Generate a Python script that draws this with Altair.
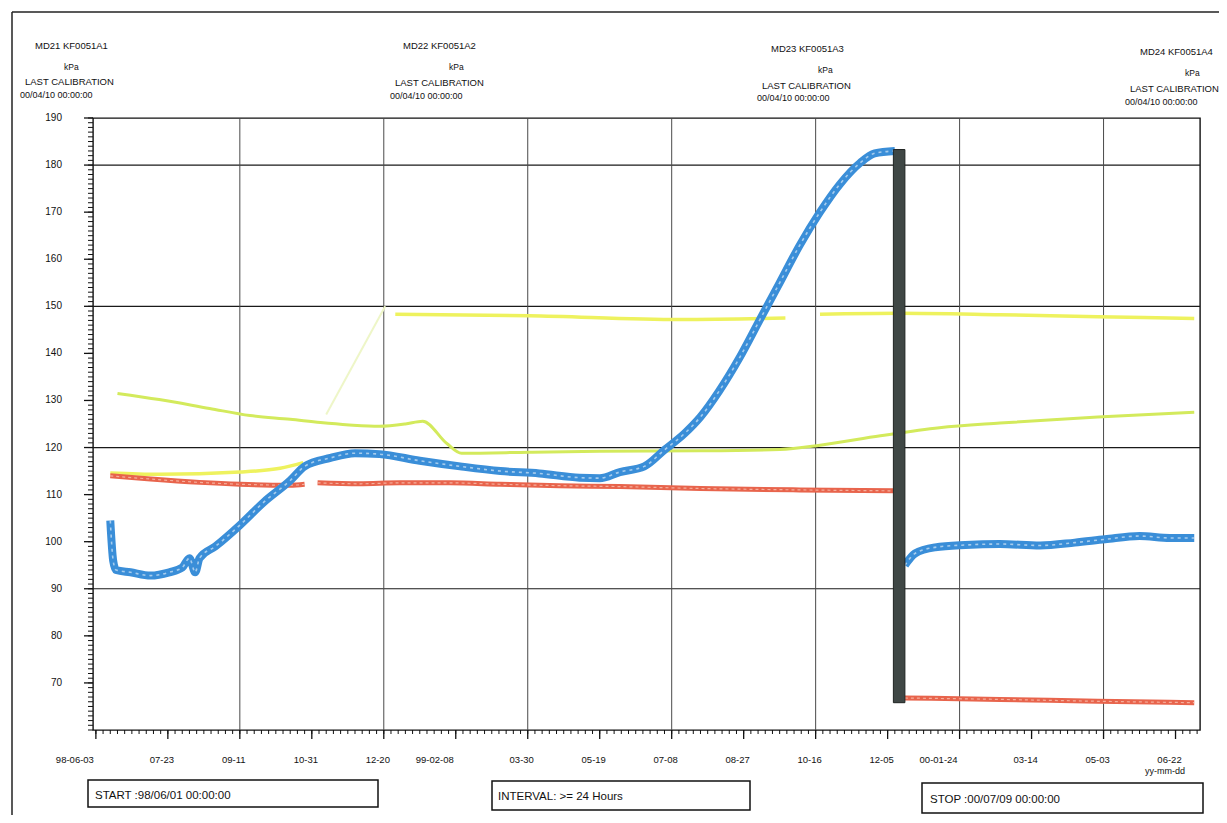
import altair as alt
import pandas as pd

START = "1998-06-01"
STOP = "2000-07-09"

# ---- series (date, kPa) ----
blue_before_dates = ["1998-06-13", "1998-06-15", "1998-06-17", "1998-06-27", "1998-07-11", "1998-07-24",
                     "1998-08-02", "1998-08-07", "1998-08-11", "1998-08-14", "1998-08-25", "1998-09-11",
                     "1998-09-28", "1998-10-16", "1998-10-26", "1998-11-13", "1998-11-30", "1998-12-17",
                     "1999-01-14", "1999-02-11", "1999-03-11", "1999-04-07", "1999-05-05", "1999-05-19",
                     "1999-06-02", "1999-06-19", "1999-07-03", "1999-07-17", "1999-07-28", "1999-08-10",
                     "1999-08-24", "1999-09-07", "1999-09-21", "1999-10-05", "1999-10-19", "1999-11-02",
                     "1999-11-16", "1999-11-26", "1999-12-10"]
blue_before_vals = [104.5, 96, 94, 93.5, 92.8, 93.5,
                    94.5, 96.5, 93.5, 96.5, 99, 103.5,
                    108.5, 113, 116, 117.8, 118.8, 118.6,
                    117.2, 116, 115, 114.5, 113.6, 113.5,
                    114.8, 116, 119.5, 123, 126.5, 132,
                    139, 147, 155, 163, 170, 176,
                    180.5, 182.5, 183]
blue_after_dates = ["1999-12-17", "1999-12-24", "2000-01-07", "2000-01-28", "2000-02-21", "2000-03-20",
                    "2000-04-13", "2000-05-04", "2000-05-28", "2000-06-18", "2000-07-05"]
blue_after_vals = [95, 97.5, 98.8, 99.3, 99.5, 99.2, 99.8, 100.5, 101.2, 100.8, 100.8]

red_1_dates = ["1998-06-13", "1998-07-11", "1998-08-14", "1998-09-11", "1998-10-16", "1998-10-26"]
red_1_vals = [114, 113.3, 112.6, 112.2, 112, 112.2]
red_2_dates = ["1998-11-04", "1998-12-03", "1998-12-31", "1999-02-04", "1999-03-11", "1999-04-21",
               "1999-06-02", "1999-07-28", "1999-10-05", "1999-12-09"]
red_2_vals = [112.5, 112.3, 112.5, 112.5, 112.2, 111.9, 111.7, 111.3, 111, 110.8]
red_3_dates = ["1999-12-17", "2000-02-21", "2000-04-29", "2000-07-05"]
red_3_vals = [66.8, 66.5, 66.1, 65.8]

yellow_1_dates = ["1998-06-13", "1998-07-17", "1998-09-11", "1998-10-09", "1998-10-25"]
yellow_1_vals = [114.6, 114.3, 114.8, 115.6, 116.8]
yellow_faint_dates = ["1998-11-10", "1998-12-21"]
yellow_faint_vals = [127, 150]
yellow_2_dates = ["1998-12-28", "1999-03-31", "1999-07-14", "1999-09-25"]
yellow_2_vals = [148.3, 148, 147.2, 147.5]
yellow_3_dates = ["1999-10-19", "1999-12-13", "2000-02-21", "2000-04-29", "2000-07-05"]
yellow_3_vals = [148.3, 148.5, 148.2, 147.8, 147.4]

green_dates = ["1998-06-18", "1998-07-17", "1998-08-21", "1998-09-18", "1998-10-16", "1998-11-06",
               "1998-11-26", "1998-12-17", "1999-01-04", "1999-01-16", "1999-02-02", "1999-02-12",
               "1999-03-31", "1999-05-19", "1999-07-28", "1999-09-21", "1999-10-19", "1999-11-30",
               "2000-01-10", "2000-02-21", "2000-04-29", "2000-07-05"]
green_vals = [131.5, 130.2, 128.3, 126.8, 126, 125.3,
              124.8, 124.5, 125, 125.6, 120.8, 118.8,
              119, 119.2, 119.3, 119.6, 120.5, 122.5,
              124.2, 125.2, 126.5, 127.5]

gap_start, gap_end = "1999-12-09", "1999-12-17"
gap_low, gap_high = 65.8, 183.3

# ---- axis texts ----
tick_dates = ["1998-06-03", "1998-07-23", "1998-09-11", "1998-10-31", "1998-12-20", "1999-02-08",
              "1999-03-30", "1999-05-19", "1999-07-08", "1999-08-27", "1999-10-16", "1999-12-05",
              "2000-01-24", "2000-03-14", "2000-05-03", "2000-06-22"]
tick_labels = ["98-06-03", "07-23", "09-11", "10-31", "12-20", "99-02-08", "03-30", "05-19",
               "07-08", "08-27", "10-16", "12-05", "00-01-24", "03-14", "05-03", "06-22"]
y_labels = [70, 80, 90, 100, 110, 120, 130, 140, 150, 160, 170, 180, 190]
y_grid = [90, 120, 150, 180]

channel_names = ["MD21  KF0051A1", "MD22  KF0051A2", "MD23  KF0051A3", "MD24  KF0051A4"]
unit = "kPa"
cal_title = "LAST CALIBRATION"
cal_date = "00/04/10 00:00:00"
start_text = "START :98/06/01 00:00:00"
interval_text = "INTERVAL: >= 24 Hours"
stop_text = "STOP :00/07/09 00:00:00"
x_unit_text = "yy-mm-dd"

# ---- layout (page pixels) ----
X0, Y0 = 93, 118
W, H = 1107, 612
FONT = "Liberation Sans"


def to_day(d):
    return (pd.Timestamp(d) - pd.Timestamp(START)).days


TOTAL = to_day(STOP)
xs = alt.Scale(domain=[0, TOTAL], nice=False, zero=False)
ys = alt.Scale(domain=[60, 190], nice=False, zero=False)
XQ = lambda f: alt.X(f, type="quantitative", scale=xs, axis=None)
YQ = lambda f: alt.Y(f, type="quantitative", scale=ys, axis=None)


def line_df(segments):
    rows = []
    for i, (ds, vs) in enumerate(segments):
        for d, v in zip(ds, vs):
            rows.append({"day": to_day(d), "value": v, "seg": i})
    return pd.DataFrame(rows)


def line_layer(df, color, width, opacity=1.0, dash=None):
    kw = dict(color=color, strokeWidth=width, opacity=opacity, interpolate="monotone")
    if dash:
        kw["strokeDash"] = dash
    return alt.Chart(df).mark_line(**kw).encode(
        x=XQ("day"), y=YQ("value"), detail="seg:N", order="day:Q")


def px(x):
    return alt.value(x - X0)


def py(y):
    return alt.value(y - Y0)


def text_at(t, x, y, size=9.5, align="left"):
    return alt.Chart(pd.DataFrame({"t": [t]})).mark_text(
        font=FONT, fontSize=size, align=align, baseline="middle", color="#111"
    ).encode(x=px(x), y=py(y), text="t:N")


def box_at(x1, y1, x2, y2):
    return alt.Chart(pd.DataFrame({"a": [0]})).mark_rect(
        fill="white", stroke="#111", strokeWidth=1.5
    ).encode(x=px(x1), x2=px(x2), y=py(y1), y2=py(y2))


def rule_at(x1, y1, x2, y2, width=1.5):
    return alt.Chart(pd.DataFrame({"a": [0]})).mark_rule(color="#222", strokeWidth=width).encode(
        x=px(x1), x2=px(x2), y=py(y1), y2=py(y2))


layers = []

# outer frame
layers.append(rule_at(12, 12, 1219, 12))
layers.append(rule_at(12, 12, 12, 815))

# horizontal gridlines
layers.append(alt.Chart(pd.DataFrame({"v": y_grid})).mark_rule(color="#1a1a1a", strokeWidth=1.2).encode(
    y=YQ("v")))

# vertical gridlines
tick_days = [to_day(d) for d in tick_dates]
layers.append(alt.Chart(pd.DataFrame({"day": tick_days[2::2]})).mark_rule(
    color="#4a4a4a", strokeWidth=1).encode(x=XQ("day")))

# y ticks and labels
minor_y = pd.DataFrame({"v": list(range(60, 191))})
layers.append(alt.Chart(minor_y).mark_rule(color="#111", strokeWidth=1).encode(
    x=alt.value(-5), x2=alt.value(0), y=YQ("v")))
ylab_df = pd.DataFrame({"v": y_labels, "lab": [str(v) for v in y_labels]})
layers.append(alt.Chart(ylab_df).mark_rule(color="#111", strokeWidth=1.3).encode(
    x=alt.value(-9), x2=alt.value(0), y=YQ("v")))
layers.append(alt.Chart(ylab_df).mark_text(
    font=FONT, fontSize=10, align="right", baseline="middle", color="#111").encode(
    x=alt.value(-31), y=YQ("v"), text="lab:N"))

# x ticks and labels
minor_x = pd.DataFrame({"day": list(range(tick_days[0], TOTAL, 5))})
layers.append(alt.Chart(minor_x).mark_rule(color="#111", strokeWidth=1).encode(
    y=alt.value(H), y2=alt.value(H + 4), x=XQ("day")))
lab_df = pd.DataFrame({"day": tick_days, "lab": tick_labels})
layers.append(alt.Chart(lab_df).mark_rule(color="#111", strokeWidth=1.3).encode(
    y=alt.value(H), y2=alt.value(H + 9), x=XQ("day")))
short_df = lab_df[lab_df["lab"].str.len() <= 5]
long_df = lab_df[lab_df["lab"].str.len() > 5]
layers.append(alt.Chart(short_df).mark_text(
    font=FONT, fontSize=9.5, align="center", baseline="middle", dx=-6, color="#111").encode(
    x=XQ("day"), y=alt.value(760 - Y0), text="lab:N"))
layers.append(alt.Chart(long_df).mark_text(
    font=FONT, fontSize=9.5, align="center", baseline="middle", dx=-21, color="#111").encode(
    x=XQ("day"), y=alt.value(760 - Y0), text="lab:N"))

# series
green_df = line_df([(green_dates, green_vals)])
yellow_df = line_df([(yellow_1_dates, yellow_1_vals), (yellow_2_dates, yellow_2_vals),
                     (yellow_3_dates, yellow_3_vals)])
faint_df = line_df([(yellow_faint_dates, yellow_faint_vals)])
red_df = line_df([(red_1_dates, red_1_vals), (red_2_dates, red_2_vals), (red_3_dates, red_3_vals)])
blue_df = line_df([(blue_before_dates, blue_before_vals), (blue_after_dates, blue_after_vals)])

layers.append(line_layer(faint_df, "#eef6c8", 2))
layers.append(line_layer(green_df, "#d3ea5c", 3))
layers.append(line_layer(yellow_df, "#eef25e", 3.5))
layers.append(line_layer(red_df, "#e8644c", 5))
layers.append(line_layer(red_df, "#f8c2b2", 1.2, 0.8, [3, 3]))
layers.append(line_layer(blue_df, "#3a8ed8", 8))
layers.append(line_layer(blue_df, "#ffffff", 1.6, 0.55, [3, 4]))

# gap bar
gap_df = pd.DataFrame({"s": [to_day(gap_start)], "e": [to_day(gap_end)],
                       "lo": [gap_low], "hi": [gap_high]})
layers.append(alt.Chart(gap_df).mark_rect(color="#3f4745", stroke="#1f2422", strokeWidth=1).encode(
    x=XQ("s"), x2="e:Q", y=YQ("lo"), y2="hi:Q"))

# header texts
name_pos = [(35, 46), (403, 46), (771, 49), (1140, 52)]
unit_pos = [(64, 67), (449, 67), (818, 70), (1185, 73)]
cal_pos = [(25, 82), (395, 83), (762, 86), (1130, 89)]
date_pos = [(20, 95), (390, 96), (757, 98), (1125, 102)]
for i in range(4):
    layers.append(text_at(channel_names[i], *name_pos[i]))
    layers.append(text_at(unit, *unit_pos[i], size=8.5))
    layers.append(text_at(cal_title, *cal_pos[i]))
    layers.append(text_at(cal_date, *date_pos[i], size=9))

layers.append(text_at(x_unit_text, 1165, 771, size=9, align="center"))

# bottom boxes
layers.append(box_at(88, 780, 378, 807))
layers.append(text_at(start_text, 95, 796, size=11.5))
layers.append(box_at(492, 781, 750, 810))
layers.append(text_at(interval_text, 498, 797, size=11.5))
layers.append(box_at(922, 783, 1203, 813))
layers.append(text_at(stop_text, 930, 800, size=11.5))

chart = alt.layer(*layers).properties(
    width=W, height=H,
    padding={"left": X0 - 8, "top": Y0 - 8, "right": 19, "bottom": 85},
    autosize=alt.AutoSizeParams(type="none"),
    background="white",
).configure_view(stroke="#111", strokeWidth=1.4)

chart.save("out.html", embed_options={"renderer": "svg", "actions": False})
